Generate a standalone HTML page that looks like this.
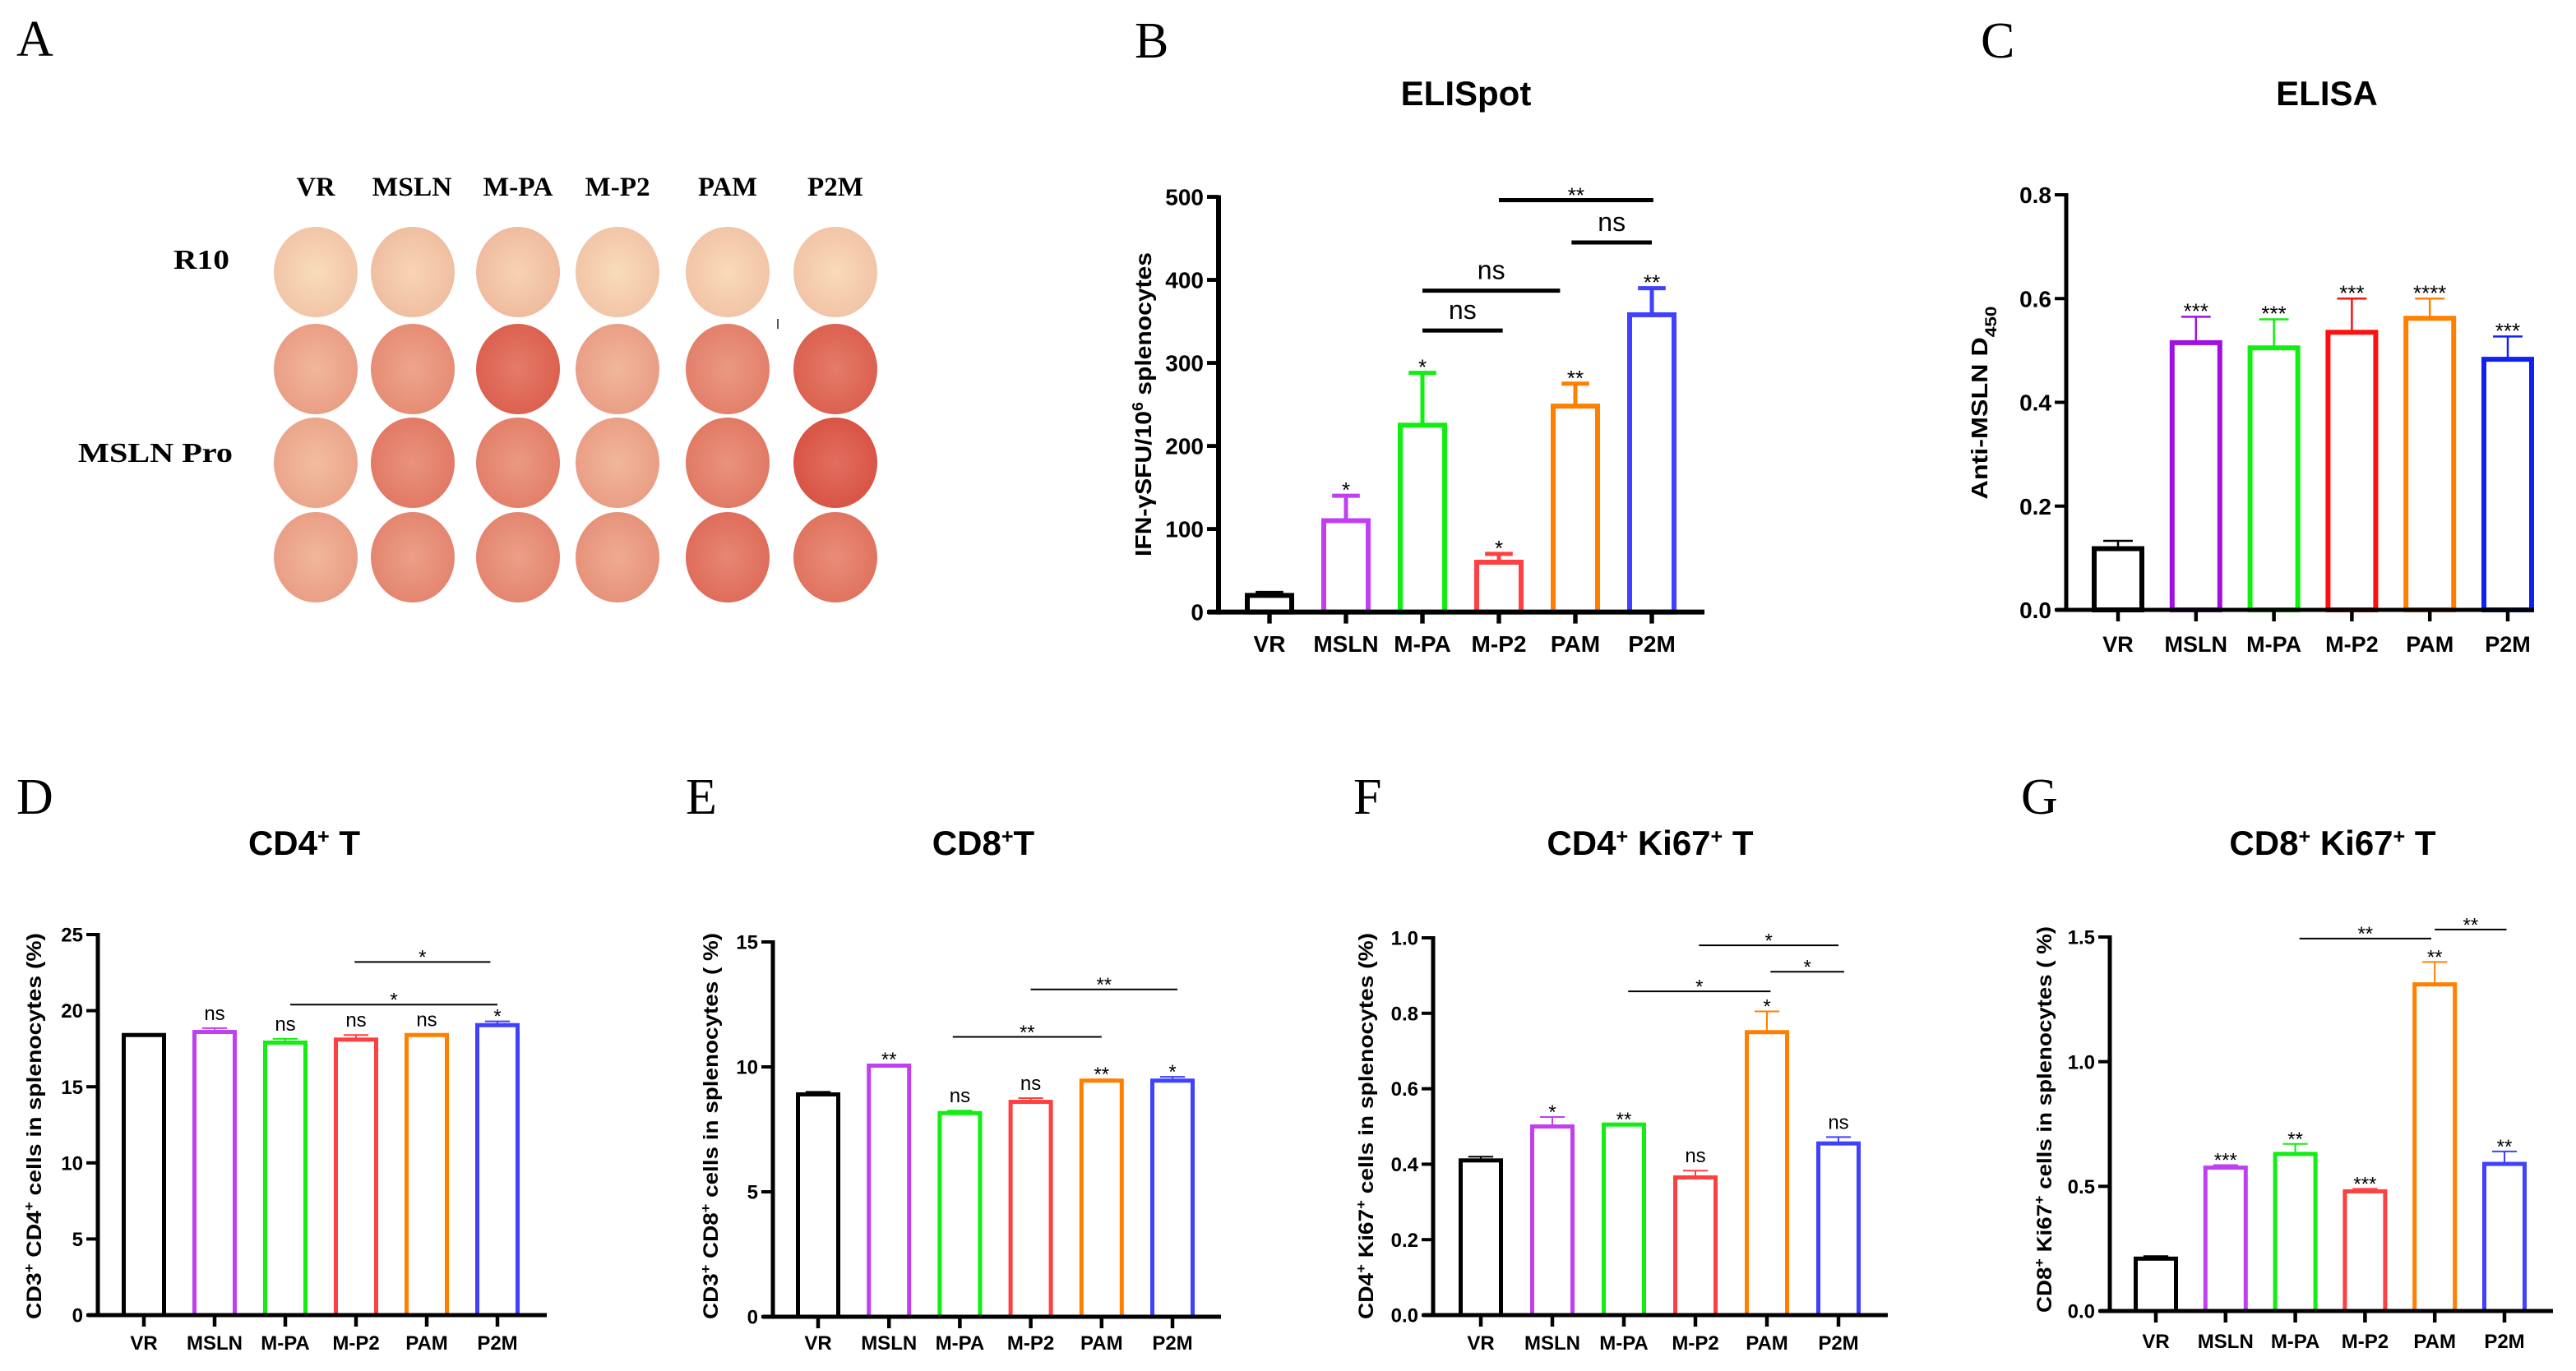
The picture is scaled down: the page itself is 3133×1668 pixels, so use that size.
<!DOCTYPE html>
<html><head><meta charset="utf-8"><title>Immune response figure panels A–G</title>
<style>
html,body{margin:0;padding:0;background:#fff;}
svg{display:block;}
.sans{font-family:"Liberation Sans",Arial,sans-serif;}
.serif{font-family:"Liberation Serif","Times New Roman",serif;}
</style></head>
<body>
<svg id="fig" xmlns="http://www.w3.org/2000/svg" width="3133" height="1668" viewBox="0 0 3133 1668">
<rect x="0" y="0" width="3133" height="1668" fill="#fff"/>
<g id="panelA"></g>
<g id="charts"></g>
</svg>
<script>
const NS = "http://www.w3.org/2000/svg";
const categories = ["VR","MSLN","M-PA","M-P2","PAM","P2M"];
const colors = ["#000000","#c040f0","#11ee11","#ff4040","#ff8000","#4040ff"];
const colorsC = ["#000000","#a010e0","#11ee11","#ff1010","#ff8000","#1020f0"];

// Panel B
const bVals = [20,110,225,60,248,358];
const bErr = [23,140,288,70,275,390];
const bStars = ["","*","*","*","**","**"];
const bTicks = [0,100,200,300,400,500];
const bTickLabels = ["0","100","200","300","400","500"];
const bBrackets = [[2,3.05,339,"ns"],[2,3.8,387,"ns"],[3.95,5,445,"ns"],[3,5.02,496,"**"]];
// Panel C
const cVals = [0.118,0.515,0.505,0.535,0.562,0.483];
const cErr = [0.133,0.565,0.56,0.60,0.60,0.527];
const cStars = ["","***","***","***","****","***"];
const cTicks = [0,0.2,0.4,0.6,0.8];
const cTickLabels = ["0.0","0.2","0.4","0.6","0.8"];
const cBrackets = [];
// Panel D
const dVals = [18.4,18.6,17.9,18.1,18.4,19.05];
const dErr = [18.45,18.85,18.15,18.4,18.45,19.3];
const dStars = ["","ns","ns","ns","ns","*"];
const dTicks = [0,5,10,15,20,25];
const dTickLabels = ["0","5","10","15","20","25"];
const dBrackets = [[2.98,4.9,23.2,"*"],[2.07,5,20.4,"*"]];
// Panel E
const eVals = [8.9,10.05,8.15,8.6,9.45,9.45];
const eErr = [9.0,10.1,8.25,8.75,9.5,9.6];
const eStars = ["","**","ns","ns","**","*"];
const eTicks = [0,5,10,15];
const eTickLabels = ["0","5","10","15"];
const eBrackets = [[1.9,4.0,11.2,"**"],[3.0,5.07,13.1,"**"]];
// Panel F
const fVals = [0.41,0.5,0.505,0.365,0.75,0.455];
const fErr = [0.42,0.525,0.505,0.383,0.805,0.472];
const fStars = ["","*","**","ns","*","ns"];
const fTicks = [0,0.2,0.4,0.6,0.8,1.0];
const fTickLabels = ["0.0","0.2","0.4","0.6","0.8","1.0"];
const fBrackets = [[2.06,4.05,0.858,"*"],[4.05,5.08,0.91,"*"],[3.05,5.0,0.98,"*"]];
// Panel G
const gVals = [0.21,0.575,0.63,0.48,1.31,0.59];
const gErr = [0.22,0.585,0.67,0.49,1.40,0.64];
const gStars = ["","***","**","***","**","**"];
const gTicks = [0,0.5,1.0,1.5];
const gTickLabels = ["0.0","0.5","1.0","1.5"];
const gBrackets = [[2.06,3.95,1.494,"**"],[4.0,5.03,1.53,"**"]];

// Panel A well intensities (rows x columns)
const wellIntensity = [
  [0.04,0.10,0.12,0.04,0.05,0.05],
  [0.35,0.50,0.85,0.35,0.60,0.85],
  [0.30,0.65,0.60,0.35,0.65,0.95],
  [0.35,0.55,0.55,0.45,0.75,0.70]
];

function el(tag, attrs, parent, text){
  const e = document.createElementNS(NS, tag);
  for (const k in attrs) e.setAttribute(k, attrs[k]);
  if (text !== undefined) e.textContent = text;
  parent.appendChild(e);
  return e;
}

// ---------- Panel A ----------
(function(){
  const g = document.getElementById("panelA");
  const defs = el("defs", {}, g);
  const lt = el("text", {x:20, y:68, "font-size":62, class:"serif"}, g, "A");
  
  
  const colX = [384,501,630,751,885,1016];
  const headW = [47,97,85,79,72,68];
  const rowY = [331,449,563,678];
  categories.forEach((c,i)=>{
    const t = el("text",{x:colX[i],y:238,"text-anchor":"middle","font-size":33,"font-weight":"bold",class:"serif",textLength:headW[i],lengthAdjust:"spacingAndGlyphs"},g,c);
    
    
  });
  const r10 = el("text",{x:279,y:327,"text-anchor":"end","font-size":34,"font-weight":"bold",class:"serif",textLength:68,lengthAdjust:"spacingAndGlyphs"},g,"R10");
  
  
  const mp = el("text",{x:283,y:562,"text-anchor":"end","font-size":34,"font-weight":"bold",class:"serif",textLength:188,lengthAdjust:"spacingAndGlyphs"},g,"MSLN Pro");
  
  
  function mix(a,b,t){return Math.round(a+(b-a)*t);}
  wellIntensity.forEach((row,r)=>{
    row.forEach((v,c)=>{
      const id = "wg"+r+"_"+c;
      const gr = el("radialGradient",{id:id,cx:"50%",cy:"50%",r:"55%"},defs);
      const inner = `rgb(${mix(250,225,v)},${mix(225,105,v)},${mix(190,90,v)})`;
      const outer = `rgb(${mix(242,215,v)},${mix(200,75,v)},${mix(170,60,v)})`;
      el("stop",{offset:"0%","stop-color":inner},gr);
      el("stop",{offset:"100%","stop-color":outer},gr);
      const w = el("ellipse",{cx:colX[c]+(c===1?1:0),cy:rowY[r],rx:51,ry:55,fill:"url(#"+id+")"},g);
      
      
    });
  });
  el("rect",{x:945,y:388,width:2,height:12,fill:"#555"},g);
})();

// ---------- Bar charts ----------
function chart(cfg){
  const root = document.getElementById("charts");
  const g = el("g",{},root);
  
  
  const ys = v => cfg.yBot - (v/cfg.max)*(cfg.yBot-cfg.yTop);
  const xs = i => cfg.first + i*cfg.step;
  const L = el("text",{x:cfg.letterX,y:cfg.letterY,"font-size":62,class:"serif"},g,cfg.letter);
  
  
  const T = el("text",{x:cfg.titleX,y:cfg.titleY,"text-anchor":"middle","font-size":cfg.titleSize,"font-weight":"bold",class:"sans"},g);
  
  
  cfg.title.forEach(p=>{
    el("tspan",p.sup?{"baseline-shift":"super","font-size":cfg.titleSize*0.6}:{},T,p.t);
  });
  const yl = el("text",{x:0,y:0,"text-anchor":"middle","font-size":cfg.ylSize,"font-weight":"bold",class:"sans",
    transform:`translate(${cfg.ylX},${cfg.ylY}) rotate(-90)`,textLength:cfg.ylLen,lengthAdjust:"spacingAndGlyphs"},g);
  
  
  cfg.ylabel.forEach(p=>{
    const a = {};
    if (p.sup) {a["baseline-shift"]="super"; a["font-size"]=cfg.ylSize*0.65;}
    if (p.sub) {a["baseline-shift"]="sub"; a["font-size"]=cfg.ylSize*0.7;}
    el("tspan",a,yl,p.t);
  });
  cfg.vals.forEach((v,i)=>{
    const cx = xs(i), top = ys(v), et = ys(cfg.errs[i]);
    const sw = cfg.barSW;
    if (cfg.errs[i] > v){
      const e1 = el("line",{x1:cx,x2:cx,y1:top,y2:et,stroke:cfg.colors[i],"stroke-width":cfg.errSW},g);
      
      
      el("line",{x1:cx-cfg.barW*0.28,x2:cx+cfg.barW*0.28,y1:et,y2:et,stroke:cfg.colors[i],"stroke-width":cfg.errSW},g);
    }
    const b = el("rect",{x:cx-cfg.barW/2+sw/2,y:top,width:cfg.barW-sw,height:cfg.yBot-top,fill:"none",stroke:cfg.colors[i],"stroke-width":sw},g);
    
    
    if (cfg.stars[i]){
      const ns = cfg.stars[i]==="ns";
      const s = el("text",{x:cx,y:ns?et-10:et+2,"text-anchor":"middle","font-size":ns?cfg.nsSize:cfg.starSize,class:"sans"},g,cfg.stars[i]);
      
      
    }
  });
  cfg.brackets.forEach(br=>{
    const y = ys(br[2]);
    const ln = el("line",{x1:xs(br[0]),x2:xs(br[1]),y1:y,y2:y,stroke:"#000","stroke-width":cfg.brSW},g);
    
    
    const ns = br[3]==="ns";
    const t = el("text",{x:(xs(br[0])+xs(br[1]))/2,y:ns?y-14:y-6+(cfg.starSize*0.35),"text-anchor":"middle","font-size":ns?cfg.nsSize:cfg.starSize,class:"sans"},g,br[3]);
    
    
  });
  const ya = el("line",{x1:cfg.axisX,x2:cfg.axisX,y1:cfg.yTop-2,y2:cfg.yBot+cfg.axisW/2,stroke:"#000","stroke-width":cfg.axisW},g);
  
  
  const xa = el("line",{x1:cfg.axisX-cfg.axisW/2-10,x2:cfg.xEnd,y1:cfg.yBot,y2:cfg.yBot,stroke:"#000","stroke-width":cfg.axisW},g);
  
  
  cfg.ticks.forEach((t,i)=>{
    const y = ys(t);
    el("line",{x1:cfg.axisX-14,x2:cfg.axisX,y1:y,y2:y,stroke:"#000","stroke-width":cfg.axisW*0.8},g);
    const tl = el("text",{x:cfg.axisX-18,y:y+cfg.tickSize*0.36,"text-anchor":"end","font-size":cfg.tickSize,"font-weight":"bold",class:"sans"},g,cfg.tickLabels[i]);
    
    
  });
  categories.forEach((c,i)=>{
    const x = xs(i);
    el("line",{x1:x,x2:x,y1:cfg.yBot,y2:cfg.yBot+14,stroke:"#000","stroke-width":cfg.axisW*0.9},g);
    const cl = el("text",{x:x,y:cfg.catY,"text-anchor":"middle","font-size":cfg.catSize,"font-weight":"bold",class:"sans"},g,c);
    
    
  });
}

const bottomCommon = {titleSize:42, ylSize:25, barSW:5, errSW:2, brSW:2, axisW:5, tickSize:24, catSize:24, starSize:24, nsSize:24, barW:54, step:86};

chart({name:"chart-b-elispot", letter:"B", letterX:1380, letterY:70, title:[{t:"ELISpot"}], titleX:1783, titleY:128, titleSize:42,
  ylabel:[{t:"IFN-γSFU/10"},{t:"6",sup:true},{t:" splenocytes"}], ylX:1400, ylY:492, ylSize:28, ylLen:370,
  axisX:1482, xEnd:2073, yTop:239.5, yBot:744.6, max:500, ticks:bTicks, tickLabels:bTickLabels,
  first:1544, step:93, barW:60, vals:bVals, errs:bErr, stars:bStars, brackets:bBrackets, colors:colors,
  barSW:6, errSW:5, brSW:5, axisW:6, tickSize:28, catSize:28, catY:793, starSize:26, nsSize:32});

chart({name:"chart-c-elisa", letter:"C", letterX:2409, letterY:70, title:[{t:"ELISA"}], titleX:2830, titleY:128, titleSize:42,
  ylabel:[{t:"Anti-MSLN D"},{t:"450",sub:true}], ylX:2417, ylY:490, ylSize:28, ylLen:235,
  axisX:2513, xEnd:3082, yTop:237, yBot:742, max:0.8, ticks:cTicks, tickLabels:cTickLabels,
  first:2576, step:94.8, barW:64, vals:cVals, errs:cErr, stars:cStars, brackets:cBrackets, colors:colorsC,
  barSW:6, errSW:2.5, brSW:3, axisW:5, tickSize:28, catSize:27, catY:793, starSize:26, nsSize:30});

chart(Object.assign({}, bottomCommon, {name:"chart-d-cd4", letter:"D", letterX:20, letterY:990, title:[{t:"CD4"},{t:"+",sup:true},{t:" T"}], titleX:370, titleY:1040,
  ylabel:[{t:"CD3"},{t:"+",sup:true},{t:" CD4"},{t:"+",sup:true},{t:" cells in splenocytes (%)"}], ylX:50, ylY:1370, ylLen:470,
  axisX:119, xEnd:665, yTop:1137, yBot:1600, max:25, ticks:dTicks, tickLabels:dTickLabels,
  first:175, vals:dVals, errs:dErr, stars:dStars, brackets:dBrackets, colors:colors, catY:1642}));

chart(Object.assign({}, bottomCommon, {name:"chart-e-cd8", letter:"E", letterX:834, letterY:990, title:[{t:"CD8"},{t:"+",sup:true},{t:"T"}], titleX:1196, titleY:1040,
  ylabel:[{t:"CD3"},{t:"+",sup:true},{t:" CD8"},{t:"+",sup:true},{t:" cells in splenocytes ( %)"}], ylX:873, ylY:1370, ylLen:470,
  axisX:940, xEnd:1485, yTop:1146, yBot:1602, max:15, ticks:eTicks, tickLabels:eTickLabels,
  first:995, step:86.2, vals:eVals, errs:eErr, stars:eStars, brackets:eBrackets, colors:colors, catY:1642}));

chart(Object.assign({}, bottomCommon, {name:"chart-f-cd4-ki67", letter:"F", letterX:1646, letterY:990, title:[{t:"CD4"},{t:"+",sup:true},{t:" Ki67"},{t:"+",sup:true},{t:" T"}], titleX:2007, titleY:1040,
  ylabel:[{t:"CD4"},{t:"+",sup:true},{t:" Ki67"},{t:"+",sup:true},{t:" cells in splenocytes (%)"}], ylX:1670, ylY:1370, ylLen:470,
  axisX:1743, xEnd:2296, yTop:1141, yBot:1600, max:1.0, ticks:fTicks, tickLabels:fTickLabels,
  first:1801, step:87, vals:fVals, errs:fErr, stars:fStars, brackets:fBrackets, colors:colors, catY:1642}));

chart(Object.assign({}, bottomCommon, {name:"chart-g-cd8-ki67", letter:"G", letterX:2458, letterY:990, title:[{t:"CD8"},{t:"+",sup:true},{t:" Ki67"},{t:"+",sup:true},{t:" T"}], titleX:2837, titleY:1040,
  ylabel:[{t:"CD8"},{t:"+",sup:true},{t:" Ki67"},{t:"+",sup:true},{t:" cells in splenocytes ( %)"}], ylX:2495, ylY:1362, ylLen:470,
  axisX:2566, xEnd:3105, yTop:1140, yBot:1595, max:1.5, ticks:gTicks, tickLabels:gTickLabels,
  first:2622, step:84.8, vals:gVals, errs:gErr, stars:gStars, brackets:gBrackets, colors:colors, catY:1640}));
</script>
</body></html>
